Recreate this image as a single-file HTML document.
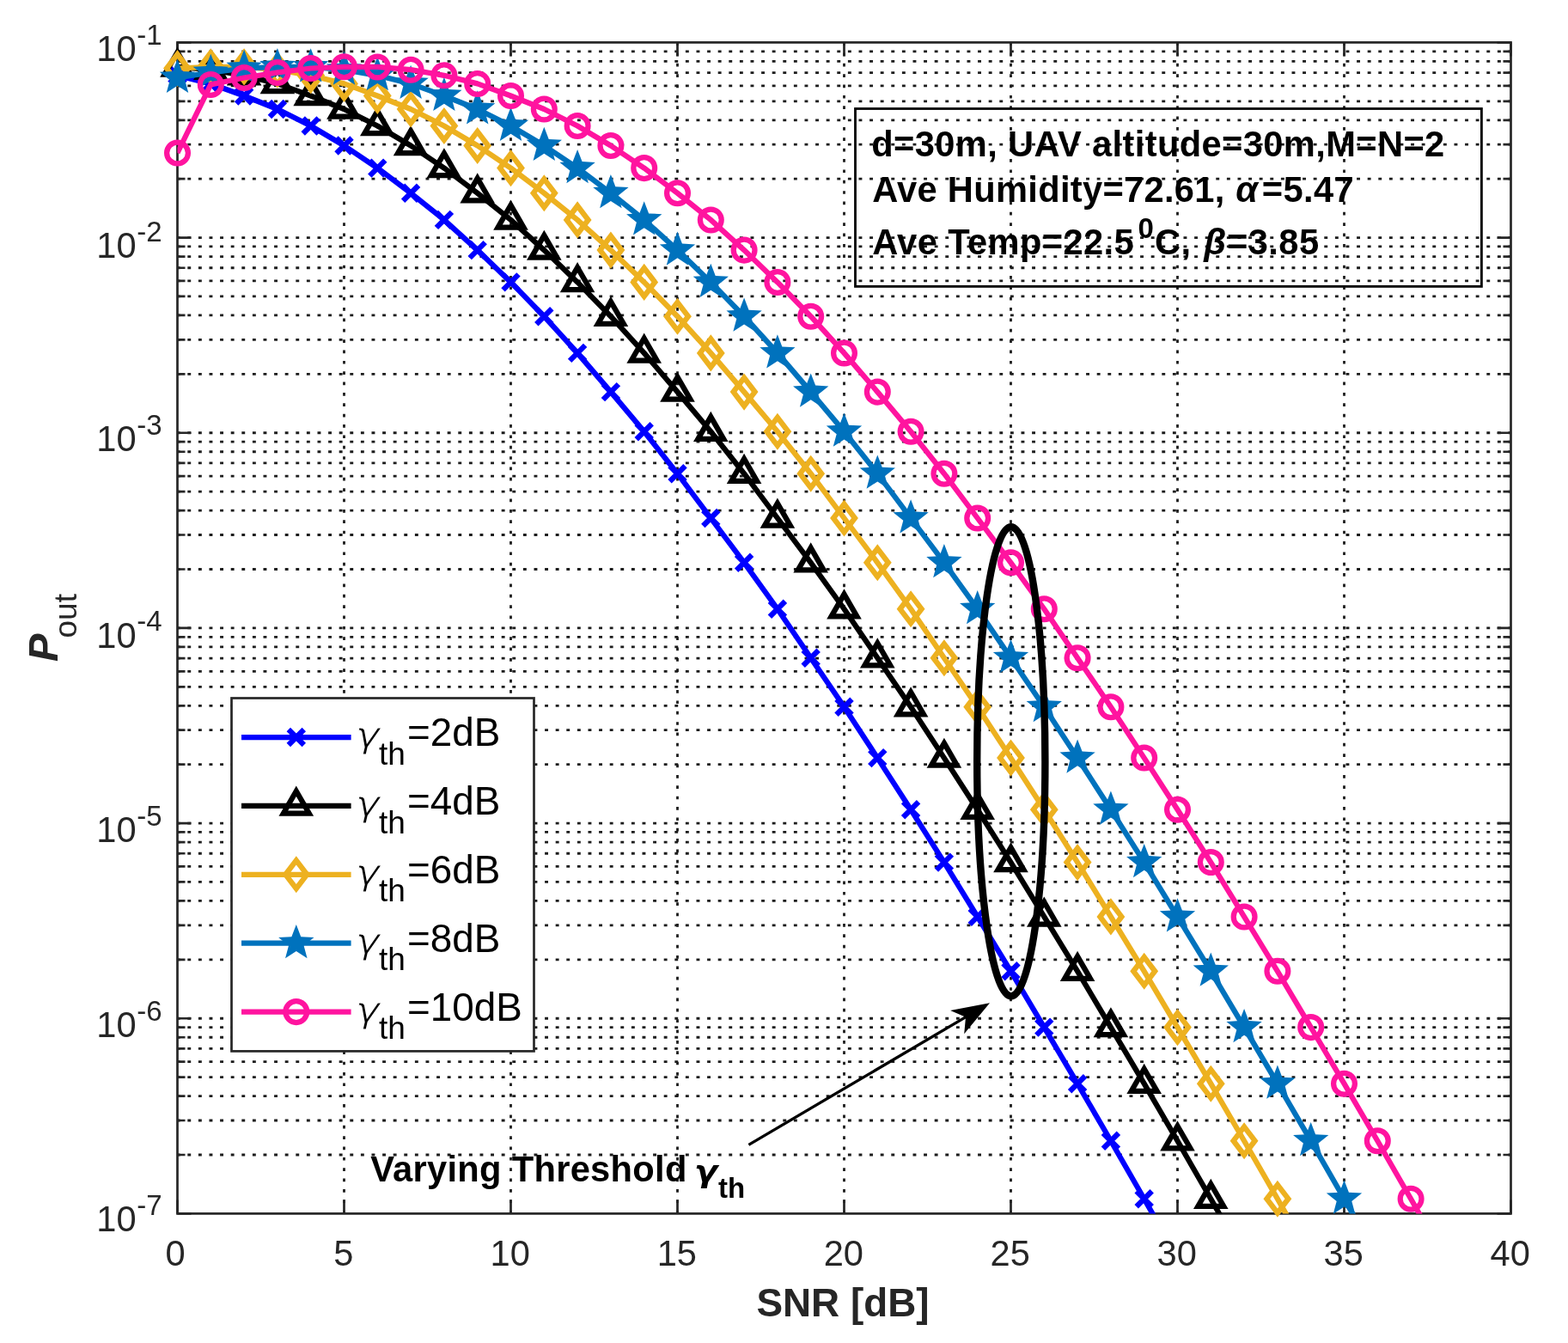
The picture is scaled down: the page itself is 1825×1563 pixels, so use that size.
<!DOCTYPE html>
<html><head><meta charset="utf-8"><title>Pout vs SNR</title>
<style>html,body{margin:0;padding:0;background:#fff;width:1825px;height:1563px;overflow:hidden}svg{display:block}</style>
</head><body>
<svg width="1825" height="1563" viewBox="0 0 1825 1563">
<rect x="0" y="0" width="1825" height="1563" fill="#fff"/>
<defs><clipPath id="axclip"><rect x="206.5" y="49.4" width="1552.0" height="1363.0"/></clipPath></defs>
<path d="M206.50,1344.02H1758.50M206.50,1304.01H1758.50M206.50,1275.63H1758.50M206.50,1253.62H1758.50M206.50,1235.63H1758.50M206.50,1220.42H1758.50M206.50,1207.25H1758.50M206.50,1195.63H1758.50M206.50,1185.23H1758.50M206.50,1116.85H1758.50M206.50,1076.85H1758.50M206.50,1048.47H1758.50M206.50,1026.45H1758.50M206.50,1008.46H1758.50M206.50,993.26H1758.50M206.50,980.08H1758.50M206.50,968.46H1758.50M206.50,958.07H1758.50M206.50,889.68H1758.50M206.50,849.68H1758.50M206.50,821.30H1758.50M206.50,799.28H1758.50M206.50,781.30H1758.50M206.50,766.09H1758.50M206.50,752.91H1758.50M206.50,741.29H1758.50M206.50,730.90H1758.50M206.50,662.52H1758.50M206.50,622.51H1758.50M206.50,594.13H1758.50M206.50,572.12H1758.50M206.50,554.13H1758.50M206.50,538.92H1758.50M206.50,525.75H1758.50M206.50,514.13H1758.50M206.50,503.73H1758.50M206.50,435.35H1758.50M206.50,395.35H1758.50M206.50,366.97H1758.50M206.50,344.95H1758.50M206.50,326.96H1758.50M206.50,311.76H1758.50M206.50,298.58H1758.50M206.50,286.96H1758.50M206.50,276.57H1758.50M206.50,208.18H1758.50M206.50,168.18H1758.50M206.50,139.80H1758.50M206.50,117.78H1758.50M206.50,99.80H1758.50M206.50,84.59H1758.50M206.50,71.41H1758.50M206.50,59.79H1758.50" stroke="#1c1c1c" stroke-width="2.8" stroke-dasharray="3.9 8.7" stroke-dashoffset="0.8" fill="none"/>
<path d="M400.50,1412.40V49.40M594.50,1412.40V49.40M788.50,1412.40V49.40M982.50,1412.40V49.40M1176.50,1412.40V49.40M1370.50,1412.40V49.40M1564.50,1412.40V49.40" stroke="#1c1c1c" stroke-width="2.8" stroke-dasharray="3.7 8.66" fill="none"/>
<path d="M206.50,1412.40V1396.40M206.50,49.40V65.40M400.50,1412.40V1396.40M400.50,49.40V65.40M594.50,1412.40V1396.40M594.50,49.40V65.40M788.50,1412.40V1396.40M788.50,49.40V65.40M982.50,1412.40V1396.40M982.50,49.40V65.40M1176.50,1412.40V1396.40M1176.50,49.40V65.40M1370.50,1412.40V1396.40M1370.50,49.40V65.40M1564.50,1412.40V1396.40M1564.50,49.40V65.40M1758.50,1412.40V1396.40M1758.50,49.40V65.40M206.50,1412.40H222.50M1758.50,1412.40H1742.50M206.50,1344.02H215.50M1758.50,1344.02H1749.50M206.50,1304.01H215.50M1758.50,1304.01H1749.50M206.50,1275.63H215.50M1758.50,1275.63H1749.50M206.50,1253.62H215.50M1758.50,1253.62H1749.50M206.50,1235.63H215.50M1758.50,1235.63H1749.50M206.50,1220.42H215.50M1758.50,1220.42H1749.50M206.50,1207.25H215.50M1758.50,1207.25H1749.50M206.50,1195.63H215.50M1758.50,1195.63H1749.50M206.50,1185.23H222.50M1758.50,1185.23H1742.50M206.50,1116.85H215.50M1758.50,1116.85H1749.50M206.50,1076.85H215.50M1758.50,1076.85H1749.50M206.50,1048.47H215.50M1758.50,1048.47H1749.50M206.50,1026.45H215.50M1758.50,1026.45H1749.50M206.50,1008.46H215.50M1758.50,1008.46H1749.50M206.50,993.26H215.50M1758.50,993.26H1749.50M206.50,980.08H215.50M1758.50,980.08H1749.50M206.50,968.46H215.50M1758.50,968.46H1749.50M206.50,958.07H222.50M1758.50,958.07H1742.50M206.50,889.68H215.50M1758.50,889.68H1749.50M206.50,849.68H215.50M1758.50,849.68H1749.50M206.50,821.30H215.50M1758.50,821.30H1749.50M206.50,799.28H215.50M1758.50,799.28H1749.50M206.50,781.30H215.50M1758.50,781.30H1749.50M206.50,766.09H215.50M1758.50,766.09H1749.50M206.50,752.91H215.50M1758.50,752.91H1749.50M206.50,741.29H215.50M1758.50,741.29H1749.50M206.50,730.90H222.50M1758.50,730.90H1742.50M206.50,662.52H215.50M1758.50,662.52H1749.50M206.50,622.51H215.50M1758.50,622.51H1749.50M206.50,594.13H215.50M1758.50,594.13H1749.50M206.50,572.12H215.50M1758.50,572.12H1749.50M206.50,554.13H215.50M1758.50,554.13H1749.50M206.50,538.92H215.50M1758.50,538.92H1749.50M206.50,525.75H215.50M1758.50,525.75H1749.50M206.50,514.13H215.50M1758.50,514.13H1749.50M206.50,503.73H222.50M1758.50,503.73H1742.50M206.50,435.35H215.50M1758.50,435.35H1749.50M206.50,395.35H215.50M1758.50,395.35H1749.50M206.50,366.97H215.50M1758.50,366.97H1749.50M206.50,344.95H215.50M1758.50,344.95H1749.50M206.50,326.96H215.50M1758.50,326.96H1749.50M206.50,311.76H215.50M1758.50,311.76H1749.50M206.50,298.58H215.50M1758.50,298.58H1749.50M206.50,286.96H215.50M1758.50,286.96H1749.50M206.50,276.57H222.50M1758.50,276.57H1742.50M206.50,208.18H215.50M1758.50,208.18H1749.50M206.50,168.18H215.50M1758.50,168.18H1749.50M206.50,139.80H215.50M1758.50,139.80H1749.50M206.50,117.78H215.50M1758.50,117.78H1749.50M206.50,99.80H215.50M1758.50,99.80H1749.50M206.50,84.59H215.50M1758.50,84.59H1749.50M206.50,71.41H215.50M1758.50,71.41H1749.50M206.50,59.79H215.50M1758.50,59.79H1749.50M206.50,49.40H222.50M1758.50,49.40H1742.50" stroke="#262626" stroke-width="2.7" fill="none"/>
<rect x="206.5" y="49.4" width="1552.00" height="1363.00" stroke="#262626" stroke-width="2.7" fill="none"/>
<g><path d="M206.50,87.80L245.30,97.40L284.10,111.50L322.90,127.00L361.70,146.50L400.50,169.50L439.30,195.60L478.10,224.70L516.90,255.90L555.70,291.10L594.50,328.40L633.30,368.20L672.10,410.90L710.90,456.10L749.70,502.30L788.50,551.20L827.30,603.00L866.10,654.80L904.90,708.80L943.70,765.70L982.50,822.70L1021.30,882.10L1060.10,942.20L1098.90,1003.60L1137.70,1066.90L1176.50,1130.30L1215.30,1195.60L1254.10,1261.20L1292.90,1327.70L1331.70,1395.20L1370.50,1463.70" stroke="#0000ff" stroke-width="6.25" fill="none" stroke-linejoin="round" clip-path="url(#axclip)"/>
<path d="M197.50,78.80L215.50,96.80M197.50,96.80L215.50,78.80" stroke="#0000ff" stroke-width="6.25" fill="none"/>
<path d="M236.30,88.40L254.30,106.40M236.30,106.40L254.30,88.40" stroke="#0000ff" stroke-width="6.25" fill="none"/>
<path d="M275.10,102.50L293.10,120.50M275.10,120.50L293.10,102.50" stroke="#0000ff" stroke-width="6.25" fill="none"/>
<path d="M313.90,118.00L331.90,136.00M313.90,136.00L331.90,118.00" stroke="#0000ff" stroke-width="6.25" fill="none"/>
<path d="M352.70,137.50L370.70,155.50M352.70,155.50L370.70,137.50" stroke="#0000ff" stroke-width="6.25" fill="none"/>
<path d="M391.50,160.50L409.50,178.50M391.50,178.50L409.50,160.50" stroke="#0000ff" stroke-width="6.25" fill="none"/>
<path d="M430.30,186.60L448.30,204.60M430.30,204.60L448.30,186.60" stroke="#0000ff" stroke-width="6.25" fill="none"/>
<path d="M469.10,215.70L487.10,233.70M469.10,233.70L487.10,215.70" stroke="#0000ff" stroke-width="6.25" fill="none"/>
<path d="M507.90,246.90L525.90,264.90M507.90,264.90L525.90,246.90" stroke="#0000ff" stroke-width="6.25" fill="none"/>
<path d="M546.70,282.10L564.70,300.10M546.70,300.10L564.70,282.10" stroke="#0000ff" stroke-width="6.25" fill="none"/>
<path d="M585.50,319.40L603.50,337.40M585.50,337.40L603.50,319.40" stroke="#0000ff" stroke-width="6.25" fill="none"/>
<path d="M624.30,359.20L642.30,377.20M624.30,377.20L642.30,359.20" stroke="#0000ff" stroke-width="6.25" fill="none"/>
<path d="M663.10,401.90L681.10,419.90M663.10,419.90L681.10,401.90" stroke="#0000ff" stroke-width="6.25" fill="none"/>
<path d="M701.90,447.10L719.90,465.10M701.90,465.10L719.90,447.10" stroke="#0000ff" stroke-width="6.25" fill="none"/>
<path d="M740.70,493.30L758.70,511.30M740.70,511.30L758.70,493.30" stroke="#0000ff" stroke-width="6.25" fill="none"/>
<path d="M779.50,542.20L797.50,560.20M779.50,560.20L797.50,542.20" stroke="#0000ff" stroke-width="6.25" fill="none"/>
<path d="M818.30,594.00L836.30,612.00M818.30,612.00L836.30,594.00" stroke="#0000ff" stroke-width="6.25" fill="none"/>
<path d="M857.10,645.80L875.10,663.80M857.10,663.80L875.10,645.80" stroke="#0000ff" stroke-width="6.25" fill="none"/>
<path d="M895.90,699.80L913.90,717.80M895.90,717.80L913.90,699.80" stroke="#0000ff" stroke-width="6.25" fill="none"/>
<path d="M934.70,756.70L952.70,774.70M934.70,774.70L952.70,756.70" stroke="#0000ff" stroke-width="6.25" fill="none"/>
<path d="M973.50,813.70L991.50,831.70M973.50,831.70L991.50,813.70" stroke="#0000ff" stroke-width="6.25" fill="none"/>
<path d="M1012.30,873.10L1030.30,891.10M1012.30,891.10L1030.30,873.10" stroke="#0000ff" stroke-width="6.25" fill="none"/>
<path d="M1051.10,933.20L1069.10,951.20M1051.10,951.20L1069.10,933.20" stroke="#0000ff" stroke-width="6.25" fill="none"/>
<path d="M1089.90,994.60L1107.90,1012.60M1089.90,1012.60L1107.90,994.60" stroke="#0000ff" stroke-width="6.25" fill="none"/>
<path d="M1128.70,1057.90L1146.70,1075.90M1128.70,1075.90L1146.70,1057.90" stroke="#0000ff" stroke-width="6.25" fill="none"/>
<path d="M1167.50,1121.30L1185.50,1139.30M1167.50,1139.30L1185.50,1121.30" stroke="#0000ff" stroke-width="6.25" fill="none"/>
<path d="M1206.30,1186.60L1224.30,1204.60M1206.30,1204.60L1224.30,1186.60" stroke="#0000ff" stroke-width="6.25" fill="none"/>
<path d="M1245.10,1252.20L1263.10,1270.20M1245.10,1270.20L1263.10,1252.20" stroke="#0000ff" stroke-width="6.25" fill="none"/>
<path d="M1283.90,1318.70L1301.90,1336.70M1283.90,1336.70L1301.90,1318.70" stroke="#0000ff" stroke-width="6.25" fill="none"/>
<path d="M1322.70,1386.20L1340.70,1404.20M1322.70,1404.20L1340.70,1386.20" stroke="#0000ff" stroke-width="6.25" fill="none"/>
</g>
<g><path d="M206.50,77.90L245.30,81.20L284.10,87.80L322.90,97.40L361.70,111.50L400.50,127.00L439.30,146.50L478.10,169.50L516.90,195.60L555.70,224.70L594.50,255.90L633.30,291.10L672.10,328.40L710.90,368.20L749.70,410.90L788.50,456.10L827.30,502.30L866.10,551.20L904.90,603.00L943.70,654.80L982.50,708.80L1021.30,765.70L1060.10,822.70L1098.90,882.10L1137.70,942.20L1176.50,1003.60L1215.30,1066.90L1254.10,1130.30L1292.90,1195.60L1331.70,1261.20L1370.50,1327.70L1409.30,1395.20L1448.10,1463.70" stroke="#000000" stroke-width="6.25" fill="none" stroke-linejoin="round" clip-path="url(#axclip)"/>
<path d="M206.50,60.70L221.40,86.50L191.60,86.50Z" stroke="#000000" stroke-width="6.25" stroke-linejoin="miter" stroke-miterlimit="10" fill="none"/>
<path d="M245.30,64.00L260.20,89.80L230.40,89.80Z" stroke="#000000" stroke-width="6.25" stroke-linejoin="miter" stroke-miterlimit="10" fill="none"/>
<path d="M284.10,70.60L299.00,96.40L269.20,96.40Z" stroke="#000000" stroke-width="6.25" stroke-linejoin="miter" stroke-miterlimit="10" fill="none"/>
<path d="M322.90,80.20L337.80,106.00L308.00,106.00Z" stroke="#000000" stroke-width="6.25" stroke-linejoin="miter" stroke-miterlimit="10" fill="none"/>
<path d="M361.70,94.30L376.60,120.10L346.80,120.10Z" stroke="#000000" stroke-width="6.25" stroke-linejoin="miter" stroke-miterlimit="10" fill="none"/>
<path d="M400.50,109.80L415.40,135.60L385.60,135.60Z" stroke="#000000" stroke-width="6.25" stroke-linejoin="miter" stroke-miterlimit="10" fill="none"/>
<path d="M439.30,129.30L454.20,155.10L424.40,155.10Z" stroke="#000000" stroke-width="6.25" stroke-linejoin="miter" stroke-miterlimit="10" fill="none"/>
<path d="M478.10,152.30L493.00,178.10L463.20,178.10Z" stroke="#000000" stroke-width="6.25" stroke-linejoin="miter" stroke-miterlimit="10" fill="none"/>
<path d="M516.90,178.40L531.80,204.20L502.00,204.20Z" stroke="#000000" stroke-width="6.25" stroke-linejoin="miter" stroke-miterlimit="10" fill="none"/>
<path d="M555.70,207.50L570.60,233.30L540.80,233.30Z" stroke="#000000" stroke-width="6.25" stroke-linejoin="miter" stroke-miterlimit="10" fill="none"/>
<path d="M594.50,238.70L609.40,264.50L579.60,264.50Z" stroke="#000000" stroke-width="6.25" stroke-linejoin="miter" stroke-miterlimit="10" fill="none"/>
<path d="M633.30,273.90L648.20,299.70L618.40,299.70Z" stroke="#000000" stroke-width="6.25" stroke-linejoin="miter" stroke-miterlimit="10" fill="none"/>
<path d="M672.10,311.20L687.00,337.00L657.20,337.00Z" stroke="#000000" stroke-width="6.25" stroke-linejoin="miter" stroke-miterlimit="10" fill="none"/>
<path d="M710.90,351.00L725.80,376.80L696.00,376.80Z" stroke="#000000" stroke-width="6.25" stroke-linejoin="miter" stroke-miterlimit="10" fill="none"/>
<path d="M749.70,393.70L764.60,419.50L734.80,419.50Z" stroke="#000000" stroke-width="6.25" stroke-linejoin="miter" stroke-miterlimit="10" fill="none"/>
<path d="M788.50,438.90L803.40,464.70L773.60,464.70Z" stroke="#000000" stroke-width="6.25" stroke-linejoin="miter" stroke-miterlimit="10" fill="none"/>
<path d="M827.30,485.10L842.20,510.90L812.40,510.90Z" stroke="#000000" stroke-width="6.25" stroke-linejoin="miter" stroke-miterlimit="10" fill="none"/>
<path d="M866.10,534.00L881.00,559.80L851.20,559.80Z" stroke="#000000" stroke-width="6.25" stroke-linejoin="miter" stroke-miterlimit="10" fill="none"/>
<path d="M904.90,585.80L919.80,611.60L890.00,611.60Z" stroke="#000000" stroke-width="6.25" stroke-linejoin="miter" stroke-miterlimit="10" fill="none"/>
<path d="M943.70,637.60L958.60,663.40L928.80,663.40Z" stroke="#000000" stroke-width="6.25" stroke-linejoin="miter" stroke-miterlimit="10" fill="none"/>
<path d="M982.50,691.60L997.40,717.40L967.60,717.40Z" stroke="#000000" stroke-width="6.25" stroke-linejoin="miter" stroke-miterlimit="10" fill="none"/>
<path d="M1021.30,748.50L1036.20,774.30L1006.40,774.30Z" stroke="#000000" stroke-width="6.25" stroke-linejoin="miter" stroke-miterlimit="10" fill="none"/>
<path d="M1060.10,805.50L1075.00,831.30L1045.20,831.30Z" stroke="#000000" stroke-width="6.25" stroke-linejoin="miter" stroke-miterlimit="10" fill="none"/>
<path d="M1098.90,864.90L1113.80,890.70L1084.00,890.70Z" stroke="#000000" stroke-width="6.25" stroke-linejoin="miter" stroke-miterlimit="10" fill="none"/>
<path d="M1137.70,925.00L1152.60,950.80L1122.80,950.80Z" stroke="#000000" stroke-width="6.25" stroke-linejoin="miter" stroke-miterlimit="10" fill="none"/>
<path d="M1176.50,986.40L1191.40,1012.20L1161.60,1012.20Z" stroke="#000000" stroke-width="6.25" stroke-linejoin="miter" stroke-miterlimit="10" fill="none"/>
<path d="M1215.30,1049.70L1230.20,1075.50L1200.40,1075.50Z" stroke="#000000" stroke-width="6.25" stroke-linejoin="miter" stroke-miterlimit="10" fill="none"/>
<path d="M1254.10,1113.10L1269.00,1138.90L1239.20,1138.90Z" stroke="#000000" stroke-width="6.25" stroke-linejoin="miter" stroke-miterlimit="10" fill="none"/>
<path d="M1292.90,1178.40L1307.80,1204.20L1278.00,1204.20Z" stroke="#000000" stroke-width="6.25" stroke-linejoin="miter" stroke-miterlimit="10" fill="none"/>
<path d="M1331.70,1244.00L1346.60,1269.80L1316.80,1269.80Z" stroke="#000000" stroke-width="6.25" stroke-linejoin="miter" stroke-miterlimit="10" fill="none"/>
<path d="M1370.50,1310.50L1385.40,1336.30L1355.60,1336.30Z" stroke="#000000" stroke-width="6.25" stroke-linejoin="miter" stroke-miterlimit="10" fill="none"/>
<path d="M1409.30,1378.00L1424.20,1403.80L1394.40,1403.80Z" stroke="#000000" stroke-width="6.25" stroke-linejoin="miter" stroke-miterlimit="10" fill="none"/>
</g>
<g><path d="M206.50,79.50L245.30,77.80L284.10,77.90L322.90,81.20L361.70,87.80L400.50,97.40L439.30,111.50L478.10,127.00L516.90,146.50L555.70,169.50L594.50,195.60L633.30,224.70L672.10,255.90L710.90,291.10L749.70,328.40L788.50,368.20L827.30,410.90L866.10,456.10L904.90,502.30L943.70,551.20L982.50,603.00L1021.30,654.80L1060.10,708.80L1098.90,765.70L1137.70,822.70L1176.50,882.10L1215.30,942.20L1254.10,1003.60L1292.90,1066.90L1331.70,1130.30L1370.50,1195.60L1409.30,1261.20L1448.10,1327.70L1486.90,1395.20L1525.70,1463.70" stroke="#edb120" stroke-width="6.25" fill="none" stroke-linejoin="round" clip-path="url(#axclip)"/>
<path d="M206.50,63.10L219.00,79.50L206.50,95.90L194.00,79.50Z" stroke="#edb120" stroke-width="6.25" stroke-linejoin="miter" stroke-miterlimit="10" fill="none"/>
<path d="M245.30,61.40L257.80,77.80L245.30,94.20L232.80,77.80Z" stroke="#edb120" stroke-width="6.25" stroke-linejoin="miter" stroke-miterlimit="10" fill="none"/>
<path d="M284.10,61.50L296.60,77.90L284.10,94.30L271.60,77.90Z" stroke="#edb120" stroke-width="6.25" stroke-linejoin="miter" stroke-miterlimit="10" fill="none"/>
<path d="M322.90,64.80L335.40,81.20L322.90,97.60L310.40,81.20Z" stroke="#edb120" stroke-width="6.25" stroke-linejoin="miter" stroke-miterlimit="10" fill="none"/>
<path d="M361.70,71.40L374.20,87.80L361.70,104.20L349.20,87.80Z" stroke="#edb120" stroke-width="6.25" stroke-linejoin="miter" stroke-miterlimit="10" fill="none"/>
<path d="M400.50,81.00L413.00,97.40L400.50,113.80L388.00,97.40Z" stroke="#edb120" stroke-width="6.25" stroke-linejoin="miter" stroke-miterlimit="10" fill="none"/>
<path d="M439.30,95.10L451.80,111.50L439.30,127.90L426.80,111.50Z" stroke="#edb120" stroke-width="6.25" stroke-linejoin="miter" stroke-miterlimit="10" fill="none"/>
<path d="M478.10,110.60L490.60,127.00L478.10,143.40L465.60,127.00Z" stroke="#edb120" stroke-width="6.25" stroke-linejoin="miter" stroke-miterlimit="10" fill="none"/>
<path d="M516.90,130.10L529.40,146.50L516.90,162.90L504.40,146.50Z" stroke="#edb120" stroke-width="6.25" stroke-linejoin="miter" stroke-miterlimit="10" fill="none"/>
<path d="M555.70,153.10L568.20,169.50L555.70,185.90L543.20,169.50Z" stroke="#edb120" stroke-width="6.25" stroke-linejoin="miter" stroke-miterlimit="10" fill="none"/>
<path d="M594.50,179.20L607.00,195.60L594.50,212.00L582.00,195.60Z" stroke="#edb120" stroke-width="6.25" stroke-linejoin="miter" stroke-miterlimit="10" fill="none"/>
<path d="M633.30,208.30L645.80,224.70L633.30,241.10L620.80,224.70Z" stroke="#edb120" stroke-width="6.25" stroke-linejoin="miter" stroke-miterlimit="10" fill="none"/>
<path d="M672.10,239.50L684.60,255.90L672.10,272.30L659.60,255.90Z" stroke="#edb120" stroke-width="6.25" stroke-linejoin="miter" stroke-miterlimit="10" fill="none"/>
<path d="M710.90,274.70L723.40,291.10L710.90,307.50L698.40,291.10Z" stroke="#edb120" stroke-width="6.25" stroke-linejoin="miter" stroke-miterlimit="10" fill="none"/>
<path d="M749.70,312.00L762.20,328.40L749.70,344.80L737.20,328.40Z" stroke="#edb120" stroke-width="6.25" stroke-linejoin="miter" stroke-miterlimit="10" fill="none"/>
<path d="M788.50,351.80L801.00,368.20L788.50,384.60L776.00,368.20Z" stroke="#edb120" stroke-width="6.25" stroke-linejoin="miter" stroke-miterlimit="10" fill="none"/>
<path d="M827.30,394.50L839.80,410.90L827.30,427.30L814.80,410.90Z" stroke="#edb120" stroke-width="6.25" stroke-linejoin="miter" stroke-miterlimit="10" fill="none"/>
<path d="M866.10,439.70L878.60,456.10L866.10,472.50L853.60,456.10Z" stroke="#edb120" stroke-width="6.25" stroke-linejoin="miter" stroke-miterlimit="10" fill="none"/>
<path d="M904.90,485.90L917.40,502.30L904.90,518.70L892.40,502.30Z" stroke="#edb120" stroke-width="6.25" stroke-linejoin="miter" stroke-miterlimit="10" fill="none"/>
<path d="M943.70,534.80L956.20,551.20L943.70,567.60L931.20,551.20Z" stroke="#edb120" stroke-width="6.25" stroke-linejoin="miter" stroke-miterlimit="10" fill="none"/>
<path d="M982.50,586.60L995.00,603.00L982.50,619.40L970.00,603.00Z" stroke="#edb120" stroke-width="6.25" stroke-linejoin="miter" stroke-miterlimit="10" fill="none"/>
<path d="M1021.30,638.40L1033.80,654.80L1021.30,671.20L1008.80,654.80Z" stroke="#edb120" stroke-width="6.25" stroke-linejoin="miter" stroke-miterlimit="10" fill="none"/>
<path d="M1060.10,692.40L1072.60,708.80L1060.10,725.20L1047.60,708.80Z" stroke="#edb120" stroke-width="6.25" stroke-linejoin="miter" stroke-miterlimit="10" fill="none"/>
<path d="M1098.90,749.30L1111.40,765.70L1098.90,782.10L1086.40,765.70Z" stroke="#edb120" stroke-width="6.25" stroke-linejoin="miter" stroke-miterlimit="10" fill="none"/>
<path d="M1137.70,806.30L1150.20,822.70L1137.70,839.10L1125.20,822.70Z" stroke="#edb120" stroke-width="6.25" stroke-linejoin="miter" stroke-miterlimit="10" fill="none"/>
<path d="M1176.50,865.70L1189.00,882.10L1176.50,898.50L1164.00,882.10Z" stroke="#edb120" stroke-width="6.25" stroke-linejoin="miter" stroke-miterlimit="10" fill="none"/>
<path d="M1215.30,925.80L1227.80,942.20L1215.30,958.60L1202.80,942.20Z" stroke="#edb120" stroke-width="6.25" stroke-linejoin="miter" stroke-miterlimit="10" fill="none"/>
<path d="M1254.10,987.20L1266.60,1003.60L1254.10,1020.00L1241.60,1003.60Z" stroke="#edb120" stroke-width="6.25" stroke-linejoin="miter" stroke-miterlimit="10" fill="none"/>
<path d="M1292.90,1050.50L1305.40,1066.90L1292.90,1083.30L1280.40,1066.90Z" stroke="#edb120" stroke-width="6.25" stroke-linejoin="miter" stroke-miterlimit="10" fill="none"/>
<path d="M1331.70,1113.90L1344.20,1130.30L1331.70,1146.70L1319.20,1130.30Z" stroke="#edb120" stroke-width="6.25" stroke-linejoin="miter" stroke-miterlimit="10" fill="none"/>
<path d="M1370.50,1179.20L1383.00,1195.60L1370.50,1212.00L1358.00,1195.60Z" stroke="#edb120" stroke-width="6.25" stroke-linejoin="miter" stroke-miterlimit="10" fill="none"/>
<path d="M1409.30,1244.80L1421.80,1261.20L1409.30,1277.60L1396.80,1261.20Z" stroke="#edb120" stroke-width="6.25" stroke-linejoin="miter" stroke-miterlimit="10" fill="none"/>
<path d="M1448.10,1311.30L1460.60,1327.70L1448.10,1344.10L1435.60,1327.70Z" stroke="#edb120" stroke-width="6.25" stroke-linejoin="miter" stroke-miterlimit="10" fill="none"/>
<path d="M1486.90,1378.80L1499.40,1395.20L1486.90,1411.60L1474.40,1395.20Z" stroke="#edb120" stroke-width="6.25" stroke-linejoin="miter" stroke-miterlimit="10" fill="none"/>
</g>
<g><path d="M206.50,90.50L245.30,84.40L284.10,79.50L322.90,77.80L361.70,77.90L400.50,81.20L439.30,87.80L478.10,97.40L516.90,111.50L555.70,127.00L594.50,146.50L633.30,169.50L672.10,195.60L710.90,224.70L749.70,255.90L788.50,291.10L827.30,328.40L866.10,368.20L904.90,410.90L943.70,456.10L982.50,502.30L1021.30,551.20L1060.10,603.00L1098.90,654.80L1137.70,708.80L1176.50,765.70L1215.30,822.70L1254.10,882.10L1292.90,942.20L1331.70,1003.60L1370.50,1066.90L1409.30,1130.30L1448.10,1195.60L1486.90,1261.20L1525.70,1327.70L1564.50,1395.20L1603.30,1463.70" stroke="#0072bd" stroke-width="6.25" fill="none" stroke-linejoin="round" clip-path="url(#axclip)"/>
<polygon points="206.50,68.80 211.94,83.02 227.14,83.79 215.30,93.36 219.25,108.06 206.50,99.75 193.75,108.06 197.70,93.36 185.86,83.79 201.06,83.02" fill="#0072bd"/>
<polygon points="245.30,62.70 250.74,76.92 265.94,77.69 254.10,87.26 258.05,101.96 245.30,93.65 232.55,101.96 236.50,87.26 224.66,77.69 239.86,76.92" fill="#0072bd"/>
<polygon points="284.10,57.80 289.54,72.02 304.74,72.79 292.90,82.36 296.85,97.06 284.10,88.75 271.35,97.06 275.30,82.36 263.46,72.79 278.66,72.02" fill="#0072bd"/>
<polygon points="322.90,56.10 328.34,70.32 343.54,71.09 331.70,80.66 335.65,95.36 322.90,87.05 310.15,95.36 314.10,80.66 302.26,71.09 317.46,70.32" fill="#0072bd"/>
<polygon points="361.70,56.20 367.14,70.42 382.34,71.19 370.50,80.76 374.45,95.46 361.70,87.15 348.95,95.46 352.90,80.76 341.06,71.19 356.26,70.42" fill="#0072bd"/>
<polygon points="400.50,59.50 405.94,73.72 421.14,74.49 409.30,84.06 413.25,98.76 400.50,90.45 387.75,98.76 391.70,84.06 379.86,74.49 395.06,73.72" fill="#0072bd"/>
<polygon points="439.30,66.10 444.74,80.32 459.94,81.09 448.10,90.66 452.05,105.36 439.30,97.05 426.55,105.36 430.50,90.66 418.66,81.09 433.86,80.32" fill="#0072bd"/>
<polygon points="478.10,75.70 483.54,89.92 498.74,90.69 486.90,100.26 490.85,114.96 478.10,106.65 465.35,114.96 469.30,100.26 457.46,90.69 472.66,89.92" fill="#0072bd"/>
<polygon points="516.90,89.80 522.34,104.02 537.54,104.79 525.70,114.36 529.65,129.06 516.90,120.75 504.15,129.06 508.10,114.36 496.26,104.79 511.46,104.02" fill="#0072bd"/>
<polygon points="555.70,105.30 561.14,119.52 576.34,120.29 564.50,129.86 568.45,144.56 555.70,136.25 542.95,144.56 546.90,129.86 535.06,120.29 550.26,119.52" fill="#0072bd"/>
<polygon points="594.50,124.80 599.94,139.02 615.14,139.79 603.30,149.36 607.25,164.06 594.50,155.75 581.75,164.06 585.70,149.36 573.86,139.79 589.06,139.02" fill="#0072bd"/>
<polygon points="633.30,147.80 638.74,162.02 653.94,162.79 642.10,172.36 646.05,187.06 633.30,178.75 620.55,187.06 624.50,172.36 612.66,162.79 627.86,162.02" fill="#0072bd"/>
<polygon points="672.10,173.90 677.54,188.12 692.74,188.89 680.90,198.46 684.85,213.16 672.10,204.85 659.35,213.16 663.30,198.46 651.46,188.89 666.66,188.12" fill="#0072bd"/>
<polygon points="710.90,203.00 716.34,217.22 731.54,217.99 719.70,227.56 723.65,242.26 710.90,233.95 698.15,242.26 702.10,227.56 690.26,217.99 705.46,217.22" fill="#0072bd"/>
<polygon points="749.70,234.20 755.14,248.42 770.34,249.19 758.50,258.76 762.45,273.46 749.70,265.15 736.95,273.46 740.90,258.76 729.06,249.19 744.26,248.42" fill="#0072bd"/>
<polygon points="788.50,269.40 793.94,283.62 809.14,284.39 797.30,293.96 801.25,308.66 788.50,300.35 775.75,308.66 779.70,293.96 767.86,284.39 783.06,283.62" fill="#0072bd"/>
<polygon points="827.30,306.70 832.74,320.92 847.94,321.69 836.10,331.26 840.05,345.96 827.30,337.65 814.55,345.96 818.50,331.26 806.66,321.69 821.86,320.92" fill="#0072bd"/>
<polygon points="866.10,346.50 871.54,360.72 886.74,361.49 874.90,371.06 878.85,385.76 866.10,377.45 853.35,385.76 857.30,371.06 845.46,361.49 860.66,360.72" fill="#0072bd"/>
<polygon points="904.90,389.20 910.34,403.42 925.54,404.19 913.70,413.76 917.65,428.46 904.90,420.15 892.15,428.46 896.10,413.76 884.26,404.19 899.46,403.42" fill="#0072bd"/>
<polygon points="943.70,434.40 949.14,448.62 964.34,449.39 952.50,458.96 956.45,473.66 943.70,465.35 930.95,473.66 934.90,458.96 923.06,449.39 938.26,448.62" fill="#0072bd"/>
<polygon points="982.50,480.60 987.94,494.82 1003.14,495.59 991.30,505.16 995.25,519.86 982.50,511.55 969.75,519.86 973.70,505.16 961.86,495.59 977.06,494.82" fill="#0072bd"/>
<polygon points="1021.30,529.50 1026.74,543.72 1041.94,544.49 1030.10,554.06 1034.05,568.76 1021.30,560.45 1008.55,568.76 1012.50,554.06 1000.66,544.49 1015.86,543.72" fill="#0072bd"/>
<polygon points="1060.10,581.30 1065.54,595.52 1080.74,596.29 1068.90,605.86 1072.85,620.56 1060.10,612.25 1047.35,620.56 1051.30,605.86 1039.46,596.29 1054.66,595.52" fill="#0072bd"/>
<polygon points="1098.90,633.10 1104.34,647.32 1119.54,648.09 1107.70,657.66 1111.65,672.36 1098.90,664.05 1086.15,672.36 1090.10,657.66 1078.26,648.09 1093.46,647.32" fill="#0072bd"/>
<polygon points="1137.70,687.10 1143.14,701.32 1158.34,702.09 1146.50,711.66 1150.45,726.36 1137.70,718.05 1124.95,726.36 1128.90,711.66 1117.06,702.09 1132.26,701.32" fill="#0072bd"/>
<polygon points="1176.50,744.00 1181.94,758.22 1197.14,758.99 1185.30,768.56 1189.25,783.26 1176.50,774.95 1163.75,783.26 1167.70,768.56 1155.86,758.99 1171.06,758.22" fill="#0072bd"/>
<polygon points="1215.30,801.00 1220.74,815.22 1235.94,815.99 1224.10,825.56 1228.05,840.26 1215.30,831.95 1202.55,840.26 1206.50,825.56 1194.66,815.99 1209.86,815.22" fill="#0072bd"/>
<polygon points="1254.10,860.40 1259.54,874.62 1274.74,875.39 1262.90,884.96 1266.85,899.66 1254.10,891.35 1241.35,899.66 1245.30,884.96 1233.46,875.39 1248.66,874.62" fill="#0072bd"/>
<polygon points="1292.90,920.50 1298.34,934.72 1313.54,935.49 1301.70,945.06 1305.65,959.76 1292.90,951.45 1280.15,959.76 1284.10,945.06 1272.26,935.49 1287.46,934.72" fill="#0072bd"/>
<polygon points="1331.70,981.90 1337.14,996.12 1352.34,996.89 1340.50,1006.46 1344.45,1021.16 1331.70,1012.85 1318.95,1021.16 1322.90,1006.46 1311.06,996.89 1326.26,996.12" fill="#0072bd"/>
<polygon points="1370.50,1045.20 1375.94,1059.42 1391.14,1060.19 1379.30,1069.76 1383.25,1084.46 1370.50,1076.15 1357.75,1084.46 1361.70,1069.76 1349.86,1060.19 1365.06,1059.42" fill="#0072bd"/>
<polygon points="1409.30,1108.60 1414.74,1122.82 1429.94,1123.59 1418.10,1133.16 1422.05,1147.86 1409.30,1139.55 1396.55,1147.86 1400.50,1133.16 1388.66,1123.59 1403.86,1122.82" fill="#0072bd"/>
<polygon points="1448.10,1173.90 1453.54,1188.12 1468.74,1188.89 1456.90,1198.46 1460.85,1213.16 1448.10,1204.85 1435.35,1213.16 1439.30,1198.46 1427.46,1188.89 1442.66,1188.12" fill="#0072bd"/>
<polygon points="1486.90,1239.50 1492.34,1253.72 1507.54,1254.49 1495.70,1264.06 1499.65,1278.76 1486.90,1270.45 1474.15,1278.76 1478.10,1264.06 1466.26,1254.49 1481.46,1253.72" fill="#0072bd"/>
<polygon points="1525.70,1306.00 1531.14,1320.22 1546.34,1320.99 1534.50,1330.56 1538.45,1345.26 1525.70,1336.95 1512.95,1345.26 1516.90,1330.56 1505.06,1320.99 1520.26,1320.22" fill="#0072bd"/>
<polygon points="1564.50,1373.50 1569.94,1387.72 1585.14,1388.49 1573.30,1398.06 1577.25,1412.76 1564.50,1404.45 1551.75,1412.76 1555.70,1398.06 1543.86,1388.49 1559.06,1387.72" fill="#0072bd"/>
</g>
<g><path d="M206.50,178.00L245.30,98.40L284.10,90.50L322.90,84.40L361.70,79.50L400.50,77.80L439.30,77.90L478.10,81.20L516.90,87.80L555.70,97.40L594.50,111.50L633.30,127.00L672.10,146.50L710.90,169.50L749.70,195.60L788.50,224.70L827.30,255.90L866.10,291.10L904.90,328.40L943.70,368.20L982.50,410.90L1021.30,456.10L1060.10,502.30L1098.90,551.20L1137.70,603.00L1176.50,654.80L1215.30,708.80L1254.10,765.70L1292.90,822.70L1331.70,882.10L1370.50,942.20L1409.30,1003.60L1448.10,1066.90L1486.90,1130.30L1525.70,1195.60L1564.50,1261.20L1603.30,1327.70L1642.10,1395.20L1680.90,1463.70" stroke="#ff149f" stroke-width="6.25" fill="none" stroke-linejoin="round" clip-path="url(#axclip)"/>
<circle cx="206.50" cy="178.00" r="12.4" stroke="#ff149f" stroke-width="6.25" fill="none"/>
<circle cx="245.30" cy="98.40" r="12.4" stroke="#ff149f" stroke-width="6.25" fill="none"/>
<circle cx="284.10" cy="90.50" r="12.4" stroke="#ff149f" stroke-width="6.25" fill="none"/>
<circle cx="322.90" cy="84.40" r="12.4" stroke="#ff149f" stroke-width="6.25" fill="none"/>
<circle cx="361.70" cy="79.50" r="12.4" stroke="#ff149f" stroke-width="6.25" fill="none"/>
<circle cx="400.50" cy="77.80" r="12.4" stroke="#ff149f" stroke-width="6.25" fill="none"/>
<circle cx="439.30" cy="77.90" r="12.4" stroke="#ff149f" stroke-width="6.25" fill="none"/>
<circle cx="478.10" cy="81.20" r="12.4" stroke="#ff149f" stroke-width="6.25" fill="none"/>
<circle cx="516.90" cy="87.80" r="12.4" stroke="#ff149f" stroke-width="6.25" fill="none"/>
<circle cx="555.70" cy="97.40" r="12.4" stroke="#ff149f" stroke-width="6.25" fill="none"/>
<circle cx="594.50" cy="111.50" r="12.4" stroke="#ff149f" stroke-width="6.25" fill="none"/>
<circle cx="633.30" cy="127.00" r="12.4" stroke="#ff149f" stroke-width="6.25" fill="none"/>
<circle cx="672.10" cy="146.50" r="12.4" stroke="#ff149f" stroke-width="6.25" fill="none"/>
<circle cx="710.90" cy="169.50" r="12.4" stroke="#ff149f" stroke-width="6.25" fill="none"/>
<circle cx="749.70" cy="195.60" r="12.4" stroke="#ff149f" stroke-width="6.25" fill="none"/>
<circle cx="788.50" cy="224.70" r="12.4" stroke="#ff149f" stroke-width="6.25" fill="none"/>
<circle cx="827.30" cy="255.90" r="12.4" stroke="#ff149f" stroke-width="6.25" fill="none"/>
<circle cx="866.10" cy="291.10" r="12.4" stroke="#ff149f" stroke-width="6.25" fill="none"/>
<circle cx="904.90" cy="328.40" r="12.4" stroke="#ff149f" stroke-width="6.25" fill="none"/>
<circle cx="943.70" cy="368.20" r="12.4" stroke="#ff149f" stroke-width="6.25" fill="none"/>
<circle cx="982.50" cy="410.90" r="12.4" stroke="#ff149f" stroke-width="6.25" fill="none"/>
<circle cx="1021.30" cy="456.10" r="12.4" stroke="#ff149f" stroke-width="6.25" fill="none"/>
<circle cx="1060.10" cy="502.30" r="12.4" stroke="#ff149f" stroke-width="6.25" fill="none"/>
<circle cx="1098.90" cy="551.20" r="12.4" stroke="#ff149f" stroke-width="6.25" fill="none"/>
<circle cx="1137.70" cy="603.00" r="12.4" stroke="#ff149f" stroke-width="6.25" fill="none"/>
<circle cx="1176.50" cy="654.80" r="12.4" stroke="#ff149f" stroke-width="6.25" fill="none"/>
<circle cx="1215.30" cy="708.80" r="12.4" stroke="#ff149f" stroke-width="6.25" fill="none"/>
<circle cx="1254.10" cy="765.70" r="12.4" stroke="#ff149f" stroke-width="6.25" fill="none"/>
<circle cx="1292.90" cy="822.70" r="12.4" stroke="#ff149f" stroke-width="6.25" fill="none"/>
<circle cx="1331.70" cy="882.10" r="12.4" stroke="#ff149f" stroke-width="6.25" fill="none"/>
<circle cx="1370.50" cy="942.20" r="12.4" stroke="#ff149f" stroke-width="6.25" fill="none"/>
<circle cx="1409.30" cy="1003.60" r="12.4" stroke="#ff149f" stroke-width="6.25" fill="none"/>
<circle cx="1448.10" cy="1066.90" r="12.4" stroke="#ff149f" stroke-width="6.25" fill="none"/>
<circle cx="1486.90" cy="1130.30" r="12.4" stroke="#ff149f" stroke-width="6.25" fill="none"/>
<circle cx="1525.70" cy="1195.60" r="12.4" stroke="#ff149f" stroke-width="6.25" fill="none"/>
<circle cx="1564.50" cy="1261.20" r="12.4" stroke="#ff149f" stroke-width="6.25" fill="none"/>
<circle cx="1603.30" cy="1327.70" r="12.4" stroke="#ff149f" stroke-width="6.25" fill="none"/>
<circle cx="1642.10" cy="1395.20" r="12.4" stroke="#ff149f" stroke-width="6.25" fill="none"/>
</g>
<g font-family="'Liberation Sans', Arial, Helvetica, sans-serif" fill="#262626">
<text x="204.20" y="1472.8" font-size="41.67" text-anchor="middle" transform="matrix(1,0,0,1.035,0,-51.548)">0</text>
<text x="399.80" y="1472.8" font-size="41.67" text-anchor="middle" transform="matrix(1,0,0,1.035,0,-51.548)">5</text>
<text x="593.80" y="1472.8" font-size="41.67" text-anchor="middle" transform="matrix(1,0,0,1.035,0,-51.548)">10</text>
<text x="787.80" y="1472.8" font-size="41.67" text-anchor="middle" transform="matrix(1,0,0,1.035,0,-51.548)">15</text>
<text x="981.80" y="1472.8" font-size="41.67" text-anchor="middle" transform="matrix(1,0,0,1.035,0,-51.548)">20</text>
<text x="1175.80" y="1472.8" font-size="41.67" text-anchor="middle" transform="matrix(1,0,0,1.035,0,-51.548)">25</text>
<text x="1369.80" y="1472.8" font-size="41.67" text-anchor="middle" transform="matrix(1,0,0,1.035,0,-51.548)">30</text>
<text x="1563.80" y="1472.8" font-size="41.67" text-anchor="middle" transform="matrix(1,0,0,1.035,0,-51.548)">35</text>
<text x="1757.80" y="1472.8" font-size="41.67" text-anchor="middle" transform="matrix(1,0,0,1.035,0,-51.548)">40</text>
<text x="112.3" y="70.70" font-size="41.67" transform="matrix(1,0,0,1.035,0,-2.475)">10</text>
<text x="159.3" y="51.60" font-size="33" transform="matrix(1,0,0,1.035,0,-1.806)">-1</text>
<text x="112.3" y="299.70" font-size="41.67" transform="matrix(1,0,0,1.035,0,-10.490)">10</text>
<text x="159.3" y="280.60" font-size="33" transform="matrix(1,0,0,1.035,0,-9.821)">-2</text>
<text x="112.3" y="524.70" font-size="41.67" transform="matrix(1,0,0,1.035,0,-18.365)">10</text>
<text x="159.3" y="505.60" font-size="33" transform="matrix(1,0,0,1.035,0,-17.696)">-3</text>
<text x="112.3" y="753.60" font-size="41.67" transform="matrix(1,0,0,1.035,0,-26.376)">10</text>
<text x="159.3" y="734.50" font-size="33" transform="matrix(1,0,0,1.035,0,-25.708)">-4</text>
<text x="112.3" y="979.70" font-size="41.67" transform="matrix(1,0,0,1.035,0,-34.290)">10</text>
<text x="159.3" y="960.60" font-size="33" transform="matrix(1,0,0,1.035,0,-33.621)">-5</text>
<text x="112.3" y="1207.30" font-size="41.67" transform="matrix(1,0,0,1.035,0,-42.256)">10</text>
<text x="159.3" y="1188.20" font-size="33" transform="matrix(1,0,0,1.035,0,-41.587)">-6</text>
<text x="112.3" y="1433.40" font-size="41.67" transform="matrix(1,0,0,1.035,0,-50.169)">10</text>
<text x="159.3" y="1414.30" font-size="33" transform="matrix(1,0,0,1.035,0,-49.501)">-7</text>
</g>
<text x="981" y="1531.9" font-family="'Liberation Sans', Arial, Helvetica, sans-serif" font-size="45.83" font-weight="bold" fill="#262626" text-anchor="middle">SNR [dB]</text>
<g transform="translate(67.1,770) rotate(-90)" font-family="'Liberation Sans', Arial, Helvetica, sans-serif" fill="#262626"><text x="0" y="0" font-size="48.5" font-weight="bold" font-style="italic">P</text><text x="27.5" y="22" font-size="37">out</text></g>
<rect x="269.5" y="812.5" width="352" height="410.9" fill="#fff" stroke="#262626" stroke-width="2.7"/>
<path d="M281,858.00H408.6" stroke="#0000ff" stroke-width="6.25" fill="none"/>
<path d="M335.80,849.00L353.80,867.00M335.80,867.00L353.80,849.00" stroke="#0000ff" stroke-width="6.25" fill="none"/>
<text transform="translate(413.4,869.10) scale(1.16,1)" font-family="'DejaVu Sans', sans-serif" font-style="oblique" font-size="41.4" fill="#000" stroke="#fff" stroke-width="1.1">γ</text>
<text y="867.90" font-family="'Liberation Sans', Arial, Helvetica, sans-serif" font-size="45.83" fill="#000"><tspan x="441" dy="21.7" font-size="37">th</tspan><tspan x="474" dy="-21.7">=2dB</tspan></text>
<path d="M281,937.90H408.6" stroke="#000000" stroke-width="6.25" fill="none"/>
<path d="M344.80,920.70L359.70,946.50L329.90,946.50Z" stroke="#000000" stroke-width="6.25" stroke-linejoin="miter" stroke-miterlimit="10" fill="none"/>
<text transform="translate(413.4,949.00) scale(1.16,1)" font-family="'DejaVu Sans', sans-serif" font-style="oblique" font-size="41.4" fill="#000" stroke="#fff" stroke-width="1.1">γ</text>
<text y="947.80" font-family="'Liberation Sans', Arial, Helvetica, sans-serif" font-size="45.83" fill="#000"><tspan x="441" dy="21.7" font-size="37">th</tspan><tspan x="474" dy="-21.7">=4dB</tspan></text>
<path d="M281,1017.80H408.6" stroke="#edb120" stroke-width="6.25" fill="none"/>
<path d="M344.80,1001.40L357.30,1017.80L344.80,1034.20L332.30,1017.80Z" stroke="#edb120" stroke-width="6.25" stroke-linejoin="miter" stroke-miterlimit="10" fill="none"/>
<text transform="translate(413.4,1028.90) scale(1.16,1)" font-family="'DejaVu Sans', sans-serif" font-style="oblique" font-size="41.4" fill="#000" stroke="#fff" stroke-width="1.1">γ</text>
<text y="1027.70" font-family="'Liberation Sans', Arial, Helvetica, sans-serif" font-size="45.83" fill="#000"><tspan x="441" dy="21.7" font-size="37">th</tspan><tspan x="474" dy="-21.7">=6dB</tspan></text>
<path d="M281,1097.70H408.6" stroke="#0072bd" stroke-width="6.25" fill="none"/>
<polygon points="344.80,1076.00 350.24,1090.22 365.44,1090.99 353.60,1100.56 357.55,1115.26 344.80,1106.95 332.05,1115.26 336.00,1100.56 324.16,1090.99 339.36,1090.22" fill="#0072bd"/>
<text transform="translate(413.4,1108.80) scale(1.16,1)" font-family="'DejaVu Sans', sans-serif" font-style="oblique" font-size="41.4" fill="#000" stroke="#fff" stroke-width="1.1">γ</text>
<text y="1107.60" font-family="'Liberation Sans', Arial, Helvetica, sans-serif" font-size="45.83" fill="#000"><tspan x="441" dy="21.7" font-size="37">th</tspan><tspan x="474" dy="-21.7">=8dB</tspan></text>
<path d="M281,1177.60H408.6" stroke="#ff149f" stroke-width="6.25" fill="none"/>
<circle cx="344.80" cy="1177.60" r="12.4" stroke="#ff149f" stroke-width="6.25" fill="none"/>
<text transform="translate(413.4,1188.70) scale(1.16,1)" font-family="'DejaVu Sans', sans-serif" font-style="oblique" font-size="41.4" fill="#000" stroke="#fff" stroke-width="1.1">γ</text>
<text y="1187.50" font-family="'Liberation Sans', Arial, Helvetica, sans-serif" font-size="45.83" fill="#000"><tspan x="441" dy="21.7" font-size="37">th</tspan><tspan x="474" dy="-21.7">=10dB</tspan></text>
<ellipse cx="1176.8" cy="886.3" rx="39.6" ry="273.1" stroke="#000" stroke-width="8.4" fill="none"/>
<path d="M871.4,1332.3L1130.0,1180.2" stroke="#000" stroke-width="3.3" fill="none"/>
<path d="M1152.0,1167.3L1106.1,1175.9L1124.0,1183.8L1122.2,1203.2Z" fill="#000"/>
<text x="431.2" y="1374.6" font-family="'Liberation Sans', Arial, Helvetica, sans-serif" font-size="41.67" font-weight="bold" fill="#000" letter-spacing="0.3">Varying Threshold</text>
<text transform="translate(808,1376.1) scale(1.11,1)" font-family="'DejaVu Sans', sans-serif" font-style="oblique" font-weight="bold" font-size="35.8" fill="#000">γ</text>
<text x="836" y="1393.6" font-family="'Liberation Sans', Arial, Helvetica, sans-serif" font-size="33" font-weight="bold" fill="#000">th</text>
<rect x="995.5" y="126.5" width="728.9" height="206.9" fill="none" stroke="#000" stroke-width="2.8"/>
<g font-family="'Liberation Sans', Arial, Helvetica, sans-serif" font-size="41.67" font-weight="bold" fill="#000">
<text x="1014.2" y="182.4" letter-spacing="0.37">d=30m, UAV altitude=30m,M=N=2</text>
<text x="1015.2" y="234.7" letter-spacing="0.3">Ave Humidity=72.61,</text>
<text x="1438.2" y="234.7" font-style="italic">α</text>
<text x="1468.8" y="234.7" letter-spacing="0.39">=5.47</text>
<text x="1015.2" y="295.8" letter-spacing="0.39">Ave Temp=22.5</text>
<text x="1324.5" y="277.3" font-size="33">0</text>
<text x="1344.1" y="295.8" letter-spacing="0.39">C,</text>
<text x="1401.2" y="295.8" font-style="italic">β</text>
<text x="1428.1" y="295.8" letter-spacing="0.39">=3.85</text>
</g>
</svg>
</body></html>
